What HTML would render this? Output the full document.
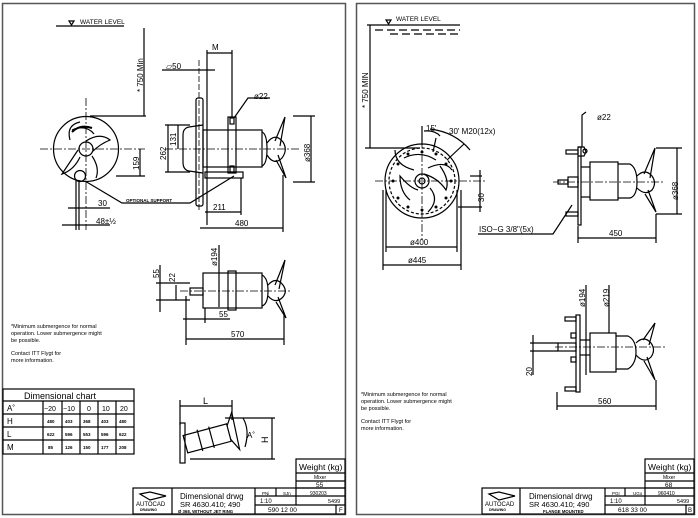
<!DOCTYPE html>
<html><head><meta charset="utf-8"><style>
html,body{margin:0;padding:0;background:#fff;}
svg{display:block;}
text{font-family:"Liberation Sans",sans-serif;fill:#000;}
</style></head><body>
<svg width="698" height="518" viewBox="0 0 698 518" xmlns="http://www.w3.org/2000/svg">
<rect width="698" height="518" fill="#fff"/>
<g fill="none" stroke="#000" stroke-width="1.2">
<rect x="2.5" y="3.5" width="343" height="511" stroke="#555" stroke-width="1.5"/>
<rect x="356.5" y="3.5" width="338" height="511" stroke="#555" stroke-width="1.5"/>

<line x1="56" y1="26" x2="124" y2="26"/>
<path d="M69 21 L74 21 L71.5 25 Z"/>
<line x1="144" y1="28" x2="144" y2="116"/>
<line x1="90" y1="116" x2="146" y2="116"/>
<circle cx="86" cy="149" r="32.5"/>
<path d="M72 130 Q86 124 94 134 M70 140 Q66 125 80 122" />
<path d="M72 132 Q80 124 92 128" stroke-width="2"/>
<path d="M86 141 Q100 132 110 140 Q100 144 92 152 M80 157 Q74 170 62 174 Q70 162 78 150 M92 156 Q100 168 96 178" />
<circle cx="86" cy="149" r="7"/>
<circle cx="80" cy="176" r="5.5"/>
<g stroke-dasharray="8 2 2 2" stroke-width="0.8">
<line x1="40" y1="149" x2="145" y2="149"/>
<line x1="86" y1="98" x2="86" y2="230"/>
<line x1="165" y1="149" x2="300" y2="149"/>
</g>
<line x1="116" y1="176" x2="145" y2="176"/>
<line x1="140" y1="149" x2="140" y2="176"/>
<line x1="79" y1="180" x2="79" y2="230"/><line x1="76" y1="180" x2="76" y2="230"/>
<line x1="68" y1="208" x2="110" y2="208"/>
<line x1="62" y1="225" x2="110" y2="225"/>
<path d="M85 181 L122 203 L190 203 L234 176"/>
<rect x="196" y="98" width="7" height="108" rx="2"/>
<path d="M203 125 L189 127 Q183 128 183 135 L183 162 Q183 170 189 171 L203 173"/>
<rect x="203" y="130" width="59" height="37"/>
<rect x="228" y="117" width="8" height="56"/>
<rect x="230" y="118" width="4" height="6"/><rect x="230" y="166" width="4" height="6"/>
<path d="M262 132 Q267 134 267 149 Q267 164 262 166"/>
<path d="M267 143 Q275 132 283 142 Q288 150 282 158 Q274 166 267 155"/>
<path d="M275 141 L285 117 L280 146 M278 155 L286 178 L276 160"/>
<rect x="205" y="172" width="38" height="6"/>
<g stroke-dasharray="6 2" stroke-width="0.8"><line x1="199" y1="60" x2="199" y2="210"/></g>
<line x1="207" y1="50" x2="207" y2="225"/>
<line x1="232" y1="50" x2="232" y2="117"/>
<line x1="207" y1="53" x2="232" y2="53"/>
<line x1="162" y1="70" x2="215" y2="70"/>
<path d="M234 118 L248 98 L270 98"/>
<line x1="293" y1="116" x2="315" y2="116"/><line x1="293" y1="182" x2="315" y2="182"/>
<line x1="311" y1="116" x2="311" y2="182"/>
<line x1="165" y1="125" x2="190" y2="125"/><line x1="165" y1="172" x2="190" y2="172"/>
<line x1="168" y1="125" x2="168" y2="172"/>
<line x1="178" y1="125" x2="178" y2="149"/>
<line x1="241" y1="178" x2="241" y2="215"/>
<line x1="205" y1="212" x2="241" y2="212"/>
<line x1="283" y1="175" x2="283" y2="232"/>
<line x1="200" y1="228" x2="283" y2="228"/>

<rect x="203" y="273" width="59" height="35"/>
<rect x="228" y="271" width="8" height="39"/>
<path d="M262 275 Q268 278 268 291 Q268 304 262 306"/>
<path d="M268 285 Q276 276 283 285 Q288 292 282 298 Q275 304 268 296"/>
<path d="M275 285 L285 260 L279 289 M278 297 L286 318 L276 302"/>
<rect x="190" y="288" width="13" height="7"/>
<g stroke-dasharray="8 2 2 2" stroke-width="0.8"><line x1="180" y1="291" x2="292" y2="291"/></g>
<line x1="219" y1="245" x2="219" y2="307"/>
<line x1="156" y1="283" x2="190" y2="283"/><line x1="156" y1="300" x2="190" y2="300"/>
<line x1="160" y1="265" x2="160" y2="312"/>
<line x1="176" y1="285" x2="176" y2="300"/>
<line x1="186" y1="296" x2="186" y2="345"/><line x1="205" y1="308" x2="205" y2="323"/>
<line x1="183" y1="319" x2="230" y2="319"/>
<line x1="284" y1="315" x2="284" y2="345"/>
<line x1="186" y1="339" x2="284" y2="339"/>

<rect x="3" y="389" width="131" height="65"/>
<line x1="3" y1="401" x2="134" y2="401"/><line x1="3" y1="414" x2="134" y2="414"/>
<line x1="3" y1="427" x2="134" y2="427"/><line x1="3" y1="440" x2="134" y2="440"/>
<line x1="43" y1="401" x2="43" y2="454"/><line x1="62" y1="401" x2="62" y2="454"/>
<line x1="80" y1="401" x2="80" y2="454"/><line x1="98" y1="401" x2="98" y2="454"/>
<line x1="116" y1="401" x2="116" y2="454"/>
<g transform="rotate(-15 205 440)">
<rect x="185" y="430" width="45" height="18"/>
<line x1="200" y1="428" x2="200" y2="450"/><line x1="212" y1="428" x2="212" y2="450"/>
<path d="M230 432 L238 420 L236 458 L230 446"/>
</g>
<rect x="180" y="423" width="5" height="40"/>
<line x1="180" y1="400" x2="180" y2="425"/><line x1="232" y1="400" x2="232" y2="420"/>
<line x1="180" y1="406" x2="232" y2="406"/>
<line x1="225" y1="418" x2="275" y2="418"/><line x1="190" y1="459" x2="275" y2="459"/>
<line x1="272" y1="418" x2="272" y2="459"/>
<path d="M243 418 Q250 430 245 447"/>

<rect x="296" y="459" width="49" height="29"/>
<line x1="296" y1="473" x2="345" y2="473"/><line x1="296" y1="481" x2="345" y2="481"/>
<rect x="133" y="488" width="212" height="26"/>
<line x1="172" y1="488" x2="172" y2="514"/><line x1="255" y1="488" x2="255" y2="514"/>
<line x1="255" y1="496" x2="345" y2="496"/><line x1="255" y1="505" x2="345" y2="505"/>
<line x1="276" y1="488" x2="276" y2="496"/><line x1="296" y1="488" x2="296" y2="505"/>
<line x1="336" y1="505" x2="336" y2="514"/>
<path d="M140 494 L150 492 L166 496 L150 500 Z" stroke-width="1.2"/>

<line x1="367" y1="25" x2="460" y2="25"/>
<path d="M386 20 L391 20 L388.5 24 Z"/>
<g stroke-dasharray="8 4"><line x1="375" y1="30" x2="460" y2="30"/><line x1="390" y1="34" x2="460" y2="34"/></g>
<line x1="370" y1="25" x2="370" y2="148"/>
<line x1="365" y1="148" x2="420" y2="148"/>
<circle cx="422" cy="181" r="37"/>
<circle cx="422" cy="181" r="33" stroke-dasharray="3 2"/>
<circle cx="422" cy="181" r="7"/><circle cx="422" cy="181" r="3"/>
<path d="M404 158 Q420 150 436 160 M440 166 Q450 180 446 190 Q438 178 424 174 M410 200 Q400 192 400 176 Q410 188 418 190 M430 188 Q440 200 428 212"/>
<path d="M414 170 Q395 165 395 150 M428 168 Q445 160 452 170"/>
<g fill="#000" stroke="none">
<circle cx="398" cy="164" r="1.5"/><circle cx="446" cy="164" r="1.5"/><circle cx="393" cy="181" r="1.5"/><circle cx="451" cy="181" r="1.5"/>
<circle cx="398" cy="198" r="1.5"/><circle cx="446" cy="198" r="1.5"/><circle cx="408" cy="207" r="1.5"/><circle cx="436" cy="207" r="1.5"/>
<circle cx="422" cy="210" r="1.5"/><circle cx="436" cy="154" r="1.5"/><circle cx="408" cy="154" r="1.5"/><circle cx="422" cy="152" r="1.5"/>
</g>
<g stroke-dasharray="8 2 2 2" stroke-width="0.8">
<line x1="375" y1="181" x2="485" y2="181"/>
<line x1="422" y1="140" x2="422" y2="240"/>
<line x1="553" y1="182" x2="665" y2="182"/>
<line x1="555" y1="347" x2="665" y2="347"/>
</g>
<line x1="422" y1="126" x2="422" y2="145"/>
<path d="M424 131 Q435 130 440 136"/>
<line x1="436" y1="138" x2="433" y2="152"/>
<path d="M430 129 Q455 132 470 150"/>
<line x1="464" y1="144" x2="447" y2="160"/>
<line x1="470" y1="176" x2="482" y2="176"/><line x1="458" y1="207" x2="482" y2="207"/>
<line x1="480" y1="170" x2="480" y2="212"/>
<line x1="386" y1="190" x2="386" y2="252"/><line x1="457" y1="190" x2="457" y2="252"/>
<line x1="386" y1="247" x2="457" y2="247"/>
<line x1="383" y1="190" x2="383" y2="270"/><line x1="461" y1="190" x2="461" y2="270"/>
<line x1="383" y1="265" x2="461" y2="265"/>
<rect x="578" y="147" width="3" height="78"/>
<path d="M578 147 L584 147 L586 152 L584 156 L578 156"/>
<circle cx="585" cy="151" r="2"/>
<rect x="566" y="150" width="12" height="4"/><rect x="566" y="212" width="12" height="4"/>
<rect x="568" y="177" width="10" height="10"/><rect x="558" y="180" width="10" height="4"/>
<rect x="590" y="162" width="28" height="38"/>
<path d="M618 164 L630 164 Q637 168 637 182 Q637 196 630 198 L618 198"/>
<path d="M637 176 Q645 168 652 176 Q657 183 652 190 Q645 196 637 188"/>
<path d="M644 174 L655 148 L650 178 M648 190 L656 212 L645 194"/>
<line x1="581" y1="167" x2="590" y2="167"/><line x1="581" y1="197" x2="590" y2="197"/>
<path d="M586 112 L582 115 L582 147"/>
<line x1="656" y1="148" x2="682" y2="148"/><line x1="656" y1="214" x2="682" y2="214"/>
<line x1="677" y1="148" x2="677" y2="214"/>
<line x1="578" y1="226" x2="578" y2="243"/><line x1="656" y1="214" x2="656" y2="243"/>
<line x1="578" y1="238" x2="656" y2="238"/>
<path d="M478 234 L553 234 L572 205"/>
<rect x="576" y="315" width="4" height="77"/>
<rect x="565" y="317" width="11" height="4"/><rect x="565" y="387" width="11" height="4"/>
<rect x="571" y="333" width="5" height="5"/><rect x="571" y="357" width="5" height="5"/>
<rect x="558" y="343" width="18" height="8"/>
<rect x="590" y="333" width="26" height="39"/>
<path d="M616 336 L628 336 Q636 340 636 352 Q636 364 628 369 L616 369"/>
<path d="M636 343 Q644 335 651 343 Q656 350 651 357 Q644 364 636 355"/>
<path d="M643 340 L655 323 L649 345 M647 357 L655 380 L644 361"/>
<line x1="580" y1="340" x2="590" y2="340"/><line x1="580" y1="355" x2="590" y2="355"/>
<line x1="586" y1="285" x2="586" y2="375"/><line x1="609" y1="285" x2="609" y2="333"/>
<line x1="530" y1="343" x2="558" y2="343"/><line x1="530" y1="351" x2="558" y2="351"/>
<line x1="533" y1="335" x2="533" y2="375"/>
<line x1="557" y1="392" x2="557" y2="410"/><line x1="656" y1="380" x2="656" y2="410"/>
<line x1="557" y1="406" x2="656" y2="406"/>
<rect x="645" y="459" width="49" height="29"/>
<line x1="645" y1="473" x2="694" y2="473"/><line x1="645" y1="481" x2="694" y2="481"/>
<rect x="482" y="488" width="212" height="26"/>
<line x1="520" y1="488" x2="520" y2="514"/><line x1="605" y1="488" x2="605" y2="514"/>
<line x1="605" y1="496" x2="694" y2="496"/><line x1="605" y1="505" x2="694" y2="505"/>
<line x1="625" y1="488" x2="625" y2="496"/><line x1="645" y1="488" x2="645" y2="505"/>
<line x1="686" y1="505" x2="686" y2="514"/>
<path d="M489 494 L499 492 L515 496 L499 500 Z" stroke-width="1.2"/>
</g>

<g font-size="7">
<text x="80" y="24" font-size="6.5">WATER LEVEL</text>
<text transform="translate(143 92) rotate(-90)" font-size="8">* 750 Min</text>
<text x="212" y="50" font-size="8">M</text>
<text x="166" y="69" font-size="8">▱50</text>
<text x="254" y="99" font-size="8">ø22</text>
<text transform="translate(166 160) rotate(-90)" font-size="8">262</text>
<text transform="translate(176 146) rotate(-90)" font-size="8">131</text>
<text transform="translate(139 170) rotate(-90)" font-size="8">159</text>
<text transform="translate(310 162) rotate(-90)" font-size="8">ø368</text>
<text x="126" y="202" font-size="4.5" font-weight="bold">OPTIONAL SUPPORT</text>
<text x="98" y="206" font-size="8">30</text>
<text x="96" y="224" font-size="8">48±½</text>
<text x="213" y="210" font-size="8">211</text>
<text x="235" y="226" font-size="8">480</text>
<text transform="translate(217 266) rotate(-90)" font-size="8">ø194</text>
<text transform="translate(159 278) rotate(-90)" font-size="8">55</text>
<text transform="translate(175 282) rotate(-90)" font-size="8">22</text>
<text x="219" y="317" font-size="8">55</text>
<text x="231" y="337" font-size="8">570</text>
<text x="11" y="328" font-size="5.5">*Minimum submergence for normal</text>
<text x="11" y="335" font-size="5.5">operation. Lower submergence might</text>
<text x="11" y="342" font-size="5.5">be possible.</text>
<text x="11" y="355" font-size="5.5">Contact ITT Flygt for</text>
<text x="11" y="362" font-size="5.5">more information.</text>
<text x="24" y="399" font-size="9">Dimensional  chart</text>
<text x="7" y="411" font-size="8">A˚</text><text x="7" y="424" font-size="8">H</text>
<text x="7" y="437" font-size="8">L</text><text x="7" y="450" font-size="8">M</text>
<g font-size="7"><text x="44" y="411">−20</text><text x="63" y="411">−10</text><text x="87" y="411">0</text><text x="102" y="411">10</text><text x="120" y="411">20</text></g>
<g font-size="4.5" font-weight="bold">
<text x="47" y="423">480</text><text x="65" y="423">403</text><text x="83" y="423">368</text><text x="101" y="423">403</text><text x="119" y="423">480</text>
<text x="47" y="436">622</text><text x="65" y="436">596</text><text x="83" y="436">553</text><text x="101" y="436">596</text><text x="119" y="436">622</text>
<text x="48" y="449">85</text><text x="65" y="449">126</text><text x="83" y="449">150</text><text x="101" y="449">177</text><text x="119" y="449">208</text>
</g>
<text x="203" y="404" font-size="9">L</text>
<text x="247" y="438" font-size="8">A˚</text>
<text transform="translate(268 443) rotate(-90)" font-size="9">H</text>
<text x="299" y="470" font-size="8.5">Weight (kg)</text>
<text x="314" y="479" font-size="5">Mixer</text>
<text x="316" y="487" font-size="6.5">55</text>
<text x="136" y="506" font-size="6">AUTOCAD</text>
<text x="140" y="511" font-size="3.5" font-weight="bold">DRAWING</text>
<text x="180" y="499" font-size="8">Dimensional  drwg</text>
<text x="180" y="507" font-size="7.5">SR  4630.410; 490</text>
<text x="178" y="513" font-size="4.3" font-weight="bold">Ø 368, WITHOUT JET RING</text>
<text x="262" y="495" font-size="4.5">PNi</text><text x="283" y="495" font-size="4.5">SJn</text><text x="310" y="495" font-size="5">930203</text>
<text x="260" y="503" font-size="6">1:10</text><text x="328" y="503" font-size="5.5">5499</text>
<text x="268" y="512" font-size="6.5">590  12  00</text><text x="339" y="512" font-size="6">F</text>
</g>

<g>
<text x="396" y="21" font-size="6.5">WATER LEVEL</text>
<text transform="translate(368 108) rotate(-90)" font-size="8">* 750 MIN</text>
<text x="426" y="131" font-size="8">15'</text>
<text x="449" y="134" font-size="8">30'  M20(12x)</text>
<text transform="translate(484 202) rotate(-90)" font-size="8">30</text>
<text x="410" y="245" font-size="8">ø400</text>
<text x="408" y="263" font-size="8">ø445</text>
<text x="597" y="120" font-size="8">ø22</text>
<text transform="translate(678 200) rotate(-90)" font-size="8">ø368</text>
<text x="479" y="232" font-size="8">ISO−G 3/8"(5x)</text>
<text x="609" y="236" font-size="8">450</text>
<text transform="translate(585 307) rotate(-90)" font-size="8">ø194</text>
<text transform="translate(609 307) rotate(-90)" font-size="8">ø219</text>
<text transform="translate(532 376) rotate(-90)" font-size="8">20</text>
<text x="598" y="404" font-size="8">560</text>
<text x="361" y="396" font-size="5.5">*Minimum submergence for normal</text>
<text x="361" y="403" font-size="5.5">operation. Lower submergence might</text>
<text x="361" y="410" font-size="5.5">be possible.</text>
<text x="361" y="423" font-size="5.5">Contact ITT Flygt for</text>
<text x="361" y="430" font-size="5.5">more information.</text>
<text x="648" y="470" font-size="8.5">Weight (kg)</text>
<text x="663" y="479" font-size="5">Mixer</text>
<text x="665" y="487" font-size="6.5">68</text>
<text x="485" y="506" font-size="6">AUTOCAD</text>
<text x="489" y="511" font-size="3.5" font-weight="bold">DRAWING</text>
<text x="529" y="499" font-size="8">Dimensional  drwg</text>
<text x="529" y="507" font-size="7.5">SR  4630.410; 490</text>
<text x="543" y="513" font-size="4.3" font-weight="bold">FLANGE MOUNTED</text>
<text x="612" y="495" font-size="4.5">PGr</text><text x="633" y="495" font-size="4.5">UGo</text><text x="658" y="495" font-size="5">960410</text>
<text x="610" y="503" font-size="6">1:10</text><text x="677" y="503" font-size="5.5">5499</text>
<text x="618" y="512" font-size="6.5">618  33  00</text><text x="688" y="512" font-size="6">B</text>
</g>
</svg>
</body></html>
